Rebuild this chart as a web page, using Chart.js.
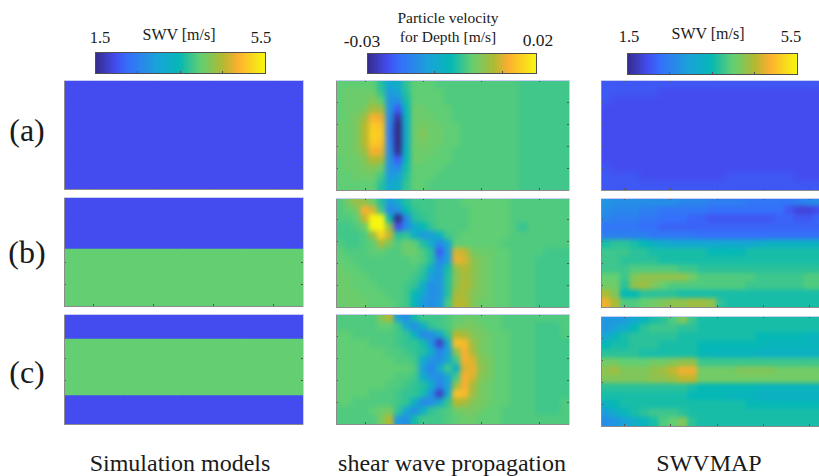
<!DOCTYPE html>
<html>
<head>
<meta charset="utf-8">
<script src="https://cdn.jsdelivr.net/npm/chart.js@4"></script>
<style>
    html, body { margin: 0; padding: 0; background: #fff; overflow: hidden; width: 819px; height: 476px; }
    canvas { position: absolute; }
    .txt { position: absolute; font-family: 'Liberation Serif', serif; color: #1a1a1a; white-space: nowrap; transform: translate(-50%, -50%); line-height: 1; }
</style>
</head>
<body>
<script>
// layered simulation models: depth edges (0 top, 1 bottom) and SWV in m/s per layer
const modelEdgesA = [0, 1];
const modelSwvA = [2];
const modelEdgesB = [0, 0.48, 1];
const modelSwvB = [2, 4];
const modelEdgesC = [0, 0.23, 0.745, 1];
const modelSwvC = [2, 4, 2];

// particle velocity in mm/s, rows top to bottom
const velocityA = [
    [1,1,1,1,1,-3,-10,-8,-2,1,1,1,0,0,0,0,0,0,0,0,0,0,-1,-1,-1,-1,-1,-1],
    [1,2,2,2,2,-2,-13,-11,-3,1,1,1,1,0,0,0,0,0,0,0,0,0,-1,-1,-1,-1,-1,-1],
    [1,2,2,2,4,1,-14,-15,-4,1,1,1,1,0,0,0,0,0,0,0,0,0,-1,-1,-1,-1,-1,-1],
    [1,2,2,3,7,6,-14,-22,-6,2,2,1,1,1,0,0,0,0,0,0,0,0,-1,-1,-1,-1,-1,-1],
    [1,2,3,6,12,11,-15,-28,-7,2,2,2,1,1,0,0,0,0,0,0,0,0,-1,-1,-1,-1,-1,-1],
    [2,2,3,8,15,14,-17,-34,-8,2,3,2,2,1,1,0,0,0,0,0,0,0,-1,-1,-1,-1,-1,-1],
    [2,2,3,8,16,15,-18,-36,-8,2,4,2,2,1,1,0,0,0,0,0,0,0,-1,-1,-1,-1,-1,-1],
    [2,2,3,8,15,14,-17,-34,-8,2,3,2,2,1,1,0,0,0,0,0,0,0,-1,-1,-1,-1,-1,-1],
    [2,2,3,6,12,11,-15,-29,-7,2,2,2,1,1,0,0,0,0,0,0,0,0,-1,-1,-1,-1,-1,-1],
    [1,2,2,4,8,7,-14,-22,-6,2,2,1,1,1,0,0,0,0,0,0,0,0,-1,-1,-1,-1,-1,-1],
    [1,2,2,3,4,2,-14,-16,-4,1,1,1,1,0,0,0,0,0,0,0,0,0,-1,-1,-1,-1,-1,-1],
    [1,1,2,2,2,-1,-13,-11,-3,1,1,1,0,0,0,0,0,0,0,0,0,0,-1,-1,-1,-1,-1,-1],
    [1,1,1,1,1,-3,-10,-8,-2,1,1,0,0,0,0,0,0,0,0,0,0,0,-1,-1,-1,-1,-1,-1]
];
const velocityB = [
    [0,3,6,5,2,-3,-13,-9,-3,-1,-1,-1,0,0,0,1,1,1,1,1,1,0,0,0,0,0,0,0],
    [0,1,3,12,10,-1,-16,-14,-5,-2,-1,-1,0,0,0,0,1,1,1,1,1,0,0,0,0,0,0,0],
    [0,0,1,9,20,20,-6,-34,-16,-3,-2,-1,0,0,0,0,1,1,1,1,1,0,0,0,0,0,0,0],
    [-1,-1,0,2,20,26,5,-24,-16,-9,-5,-2,0,0,0,0,1,1,1,1,1,0,-2,0,0,0,0,0],
    [-1,-1,-1,0,6,16,9,-3,-2,-8,-13,-12,-7,-1,0,1,1,1,1,1,1,0,0,0,0,0,0,0],
    [0,-1,-1,0,1,7,3,0,2,1,-3,-9,-16,-10,1,1,1,1,1,1,0,0,0,0,0,0,0,0],
    [1,0,0,0,1,1,0,0,2,2,0,-3,-22,-12,10,9,3,2,2,1,1,0,0,0,0,-1,-1,-1],
    [1,1,0,0,0,0,0,0,0,1,0,-3,-17,-12,11,10,5,3,2,1,1,0,0,0,-1,-1,-1,-1],
    [2,1,1,0,0,0,0,0,0,0,-2,-9,-14,-4,5,8,5,3,2,1,1,0,0,0,-1,-1,-1,-1],
    [2,2,1,1,0,0,0,0,0,-1,-3,-12,-14,-3,4,7,5,3,2,1,1,0,0,0,-1,-1,-1,-1],
    [2,2,1,1,1,0,0,0,-1,-2,-8,-15,-14,-3,5,8,5,3,2,1,1,0,0,0,-1,-1,-1,-1],
    [2,2,2,1,1,1,0,0,-1,-5,-10,-15,-14,-3,7,7,4,3,2,1,1,0,0,0,-1,-1,-1,-1],
    [2,2,2,2,1,1,1,0,-1,-6,-13,-15,-13,-1,8,8,4,2,2,1,1,0,0,0,-1,-1,-1,-1]
];
const velocityC = [
    [0,0,0,0,0,4,8,-12,-15,-4,-1,-1,-1,0,1,2,2,1,1,1,0,0,0,0,0,0,0,0],
    [0,0,0,0,0,1,1,-1,-10,-15,-8,-2,-1,0,2,3,3,2,1,1,0,0,0,0,-1,-1,-1,0],
    [1,1,0,0,0,0,0,-1,-2,-7,-16,-15,-10,-2,8,7,4,3,2,1,1,0,0,0,-1,-1,-1,0],
    [1,1,1,1,0,0,0,-1,-2,-2,-4,-14,-26,-9,14,13,6,3,2,1,1,0,0,0,-1,-1,-1,-1],
    [1,1,1,1,1,1,0,0,-1,-2,-3,-8,-17,-12,5,12,7,3,2,1,1,0,0,0,-1,-1,-1,-1],
    [1,1,1,1,1,1,1,0,0,-1,-9,-14,-15,-10,-1,12,10,4,3,1,1,0,0,0,-1,-1,-1,-1],
    [1,1,1,1,1,1,1,1,1,0,-12,-17,-10,-1,-8,10,11,5,3,1,1,0,0,0,-1,-1,-1,-1],
    [1,1,1,1,1,1,1,0,0,-1,-9,-14,-15,-10,-1,12,10,4,3,1,1,0,0,0,-1,-1,-1,-1],
    [1,1,1,1,1,1,0,0,-1,-2,-3,-8,-17,-12,5,12,7,3,2,1,1,0,0,0,-1,-1,-1,-1],
    [1,1,1,1,0,0,0,-1,-2,-2,-4,-14,-26,-9,14,13,6,3,2,1,1,0,0,0,-1,-1,-1,-1],
    [1,1,0,0,0,0,0,-1,-2,-7,-16,-15,-10,-2,8,7,4,3,2,1,1,0,0,0,-1,-1,-1,0],
    [0,0,0,0,1,2,3,-2,-10,-15,-8,-2,-1,0,2,3,3,2,1,1,0,0,0,0,-1,-1,-1,0],
    [0,0,0,0,0,3,8,-13,-15,-4,-1,-1,-1,0,1,2,2,1,1,1,0,0,0,0,0,0,0,0]
];

// reconstructed SWV maps in m/s
const swvMapA = [
    [2.1,2.1,2.1,2.1,2.1,2.1,2.1,2.1,2.1,2.1,2.1,2.1,2.1,2.1,2.1,2.1,2.1,2.1,2.1,2.1,2.1,2.1,2.1,2.1],
    [2.1,2.1,2.1,2.1,2.1,2.1,2.0,2.0,2.0,2.0,2.0,2.0,2.0,2.0,2.0,2.0,2.0,2.0,2.0,2.0,2.0,2.0,2.0,2.0],
    [2.1,2.0,2.0,2.0,2.0,2.0,2.0,2.0,2.0,2.0,2.0,2.0,2.0,2.0,2.0,2.0,2.0,2.0,2.0,2.0,2.0,2.0,2.0,2.0],
    [2.0,2.0,2.0,2.0,2.0,2.0,2.0,2.0,2.0,2.0,2.0,2.0,2.0,2.0,2.0,2.0,2.0,2.0,2.0,2.0,2.0,2.0,2.0,2.0],
    [2.0,2.0,2.0,2.0,2.0,2.0,2.0,2.0,2.0,2.0,2.0,2.0,2.0,2.0,2.0,2.0,2.0,2.0,2.0,2.0,2.0,2.0,2.0,2.0],
    [2.0,2.0,2.0,2.0,2.0,2.0,2.0,2.0,2.0,2.0,2.0,2.0,2.0,2.0,2.0,2.0,2.0,2.0,2.0,2.0,2.0,2.0,2.0,2.0],
    [2.0,2.0,2.0,2.0,2.0,2.0,2.0,2.0,2.0,2.0,2.0,2.0,2.0,2.0,2.0,2.0,2.0,2.0,2.0,2.0,2.0,2.0,2.0,2.0],
    [2.0,2.0,2.0,2.0,2.0,2.0,2.0,2.0,2.0,2.0,2.0,2.0,2.0,2.0,2.0,2.0,2.0,2.0,2.0,2.0,2.0,2.0,2.0,2.0],
    [2.0,2.0,2.0,2.0,2.0,2.0,2.0,2.0,2.0,2.0,2.0,2.0,2.0,2.0,2.0,2.0,2.0,2.0,2.0,2.0,2.0,2.0,2.0,2.0],
    [2.0,2.0,2.0,2.0,2.0,2.0,2.0,2.0,2.0,2.0,2.0,2.0,2.0,2.0,2.0,2.0,2.0,2.0,2.0,2.0,2.0,2.0,2.0,2.0],
    [2.1,2.0,2.0,2.0,2.0,2.0,2.0,2.0,2.0,2.0,2.0,2.0,2.0,2.0,2.0,2.0,2.0,2.0,2.0,2.0,2.0,2.0,2.0,2.0],
    [2.1,2.1,2.1,2.1,2.0,2.0,2.0,2.0,2.0,2.0,2.0,2.0,2.0,2.1,2.1,2.1,2.1,2.1,2.1,2.1,2.0,2.0,2.0,2.0],
    [2.1,2.1,2.1,2.1,2.1,2.1,2.1,2.1,2.1,2.1,2.1,2.1,2.1,2.1,2.1,2.1,2.1,2.1,2.1,2.1,2.1,2.1,2.1,2.1]
];
const swvMapB = [
    [2.8,2.7,2.7,2.7,2.7,2.7,2.7,2.7,2.6,2.6,2.6,2.5,2.5,2.5,2.5,2.4,2.4,2.4,2.4,2.4,2.5,2.6,2.7,2.7],
    [2.7,2.6,2.6,2.6,2.5,2.5,2.4,2.4,2.4,2.4,2.4,2.3,2.3,2.3,2.3,2.3,2.3,2.3,2.3,2.1,1.9,1.9,2.0,2.2],
    [2.6,2.5,2.5,2.5,2.4,2.4,2.3,2.3,2.3,2.2,2.2,2.1,2.1,2.1,2.1,2.1,2.1,2.1,2.2,2.2,2.1,2.1,2.2,2.2],
    [2.4,2.4,2.4,2.4,2.3,2.3,2.2,2.2,2.2,2.2,2.2,2.2,2.2,2.2,2.2,2.2,2.2,2.2,2.2,2.2,2.2,2.2,2.2,2.2],
    [2.5,2.5,2.5,2.5,2.5,2.4,2.4,2.4,2.4,2.4,2.3,2.3,2.3,2.3,2.3,2.3,2.3,2.3,2.3,2.3,2.3,2.3,2.3,2.3],
    [3.6,3.7,3.7,3.6,3.5,3.3,3.2,3.1,3.1,3.1,3.1,3.1,3.1,3.1,3.1,3.1,3.2,3.3,3.3,3.3,3.3,3.3,3.3,3.3],
    [3.8,3.8,3.8,3.7,3.7,3.6,3.6,3.6,3.6,3.6,3.6,3.5,3.5,3.5,3.5,3.6,3.6,3.6,3.6,3.6,3.6,3.6,3.6,3.6],
    [3.8,3.8,3.7,3.7,3.7,3.7,3.6,3.6,3.6,3.6,3.6,3.6,3.6,3.6,3.6,3.6,3.6,3.6,3.6,3.6,3.6,3.6,3.6,3.6],
    [3.8,3.8,3.8,3.9,3.9,3.9,3.9,3.9,3.8,3.8,3.7,3.7,3.7,3.7,3.7,3.7,3.7,3.7,3.7,3.7,3.7,3.7,3.7,3.7],
    [4.0,4.0,3.8,4.2,4.3,4.3,4.3,4.3,4.3,4.1,3.9,3.9,3.9,3.9,3.9,3.9,3.8,3.8,3.8,3.8,3.8,3.9,3.9,3.9],
    [4.1,4.1,3.7,4.3,4.4,4.2,4.0,3.9,3.9,3.9,3.9,3.9,3.9,3.9,3.9,3.8,3.8,3.8,3.8,3.8,3.8,3.9,3.9,3.9],
    [4.5,4.2,3.5,3.5,3.7,3.7,3.7,3.7,3.6,3.6,3.6,3.6,3.6,3.6,3.6,3.6,3.6,3.6,3.6,3.6,3.6,3.6,3.6,3.6],
    [4.8,4.5,3.9,3.9,4.0,4.1,4.2,4.3,4.3,4.4,4.4,4.3,3.7,3.6,3.6,3.6,3.6,3.6,3.6,3.6,3.6,3.6,3.6,3.6]
];
const swvMapC = [
    [2.8,2.8,2.9,3.1,3.4,3.6,3.7,3.9,4.2,3.8,3.6,3.6,3.6,3.6,3.6,3.6,3.6,3.6,3.6,3.6,3.6,3.6,3.6,3.6],
    [2.8,3.0,3.2,3.5,3.7,3.8,3.8,3.8,3.7,3.7,3.6,3.6,3.6,3.6,3.6,3.6,3.6,3.6,3.6,3.6,3.6,3.6,3.6,3.6],
    [3.1,3.4,3.6,3.7,3.7,3.7,3.7,3.7,3.6,3.6,3.6,3.6,3.6,3.6,3.6,3.6,3.5,3.5,3.5,3.5,3.5,3.4,3.4,3.4],
    [3.5,3.6,3.6,3.7,3.7,3.7,3.6,3.6,3.6,3.6,3.5,3.5,3.5,3.5,3.5,3.5,3.5,3.4,3.4,3.4,3.4,3.4,3.4,3.4],
    [3.7,3.7,3.7,3.7,3.6,3.6,3.6,3.6,3.6,3.6,3.5,3.4,3.4,3.4,3.4,3.4,3.3,3.3,3.3,3.3,3.3,3.3,3.3,3.3],
    [4.1,4.1,4.0,4.0,4.0,4.1,4.1,4.2,4.3,4.3,3.8,3.8,3.8,3.8,3.8,3.8,3.8,3.8,3.8,3.8,3.8,3.8,3.8,3.8],
    [4.3,4.4,4.2,4.2,4.2,4.3,4.4,4.6,4.8,4.8,4.1,4.1,4.1,4.1,4.2,4.2,4.2,4.2,4.1,4.1,4.1,4.1,4.1,4.1],
    [4.2,4.2,4.2,4.2,4.2,4.3,4.3,4.4,4.6,4.6,4.1,4.1,4.1,4.1,4.1,4.1,4.1,4.1,4.1,4.1,4.1,4.1,4.1,4.1],
    [3.7,3.7,3.7,3.7,3.7,3.7,3.7,3.7,3.7,3.6,3.5,3.5,3.5,3.5,3.5,3.5,3.4,3.4,3.4,3.4,3.4,3.4,3.4,3.4],
    [3.6,3.6,3.6,3.6,3.6,3.6,3.6,3.6,3.6,3.5,3.5,3.5,3.5,3.4,3.4,3.4,3.3,3.3,3.3,3.3,3.3,3.3,3.3,3.3],
    [3.3,3.5,3.6,3.6,3.6,3.6,3.6,3.6,3.6,3.6,3.6,3.6,3.6,3.6,3.6,3.5,3.5,3.5,3.5,3.5,3.5,3.5,3.5,3.5],
    [2.9,3.2,3.4,3.6,3.7,3.8,3.8,3.8,3.7,3.6,3.6,3.6,3.6,3.6,3.6,3.6,3.6,3.6,3.6,3.6,3.6,3.6,3.6,3.6],
    [2.7,2.8,3.0,3.2,3.4,3.6,3.9,4.0,4.2,3.7,3.6,3.6,3.6,3.6,3.6,3.6,3.6,3.6,3.6,3.6,3.6,3.6,3.6,3.6]
];

// colour bar ranges and their tick marks
const swvRange = [1.5, 5.5];
const swvBarTicks = [2, 3, 4, 5];
const velocityRange = [-30, 20];
const velocityBarTicks = [-20, 0];

const colorStops = [
    [0, '#352a87'], [0.125, '#444cf0'], [0.2, '#3570fa'], [0.37, '#1aa3d8'], [0.5, '#05b8b5'],
    [0.625, '#63cf72'], [0.76, '#b4b830'], [0.84, '#fbaf30'], [1, '#f8f510']
];

function hexToRgb(hex) {
    return [1, 3, 5].map(i => parseInt(hex.slice(i, i + 2), 16));
}

function colorAt(t) {
    t = Math.min(1, Math.max(0, t));
    for (let i = 1; i < colorStops.length; i++) {
        if (t <= colorStops[i][0]) {
            const f = (t - colorStops[i - 1][0]) / (colorStops[i][0] - colorStops[i - 1][0]);
            const a = hexToRgb(colorStops[i - 1][1]);
            const b = hexToRgb(colorStops[i][1]);
            return `rgb(${a.map((v, k) => Math.round(v + (b[k] - v) * f)).join(',')})`;
        }
    }
    return colorStops[colorStops.length - 1][1];
}

function gridCells(rows) {
    const cells = [];
    rows.forEach((row, r) => row.forEach((v, c) => cells.push({ x: c + 0.5, y: [r, r + 1], v })));
    return cells;
}

function layerCells(edges, values) {
    const cells = [];
    values.forEach((v, i) => {
        for (let c = 0; c < 4; c++) cells.push({ x: c + 0.5, y: [edges[i], edges[i + 1]], v });
    });
    return cells;
}

// soften the blocks, the source picture is a smooth and slightly blurry image
const softenPlugin = {
    id: 'soften',
    afterDatasetsDraw(chart, args, opts) {
        if (!opts.radius) return;
        const { ctx, chartArea: a } = chart;
        ctx.save();
        ctx.beginPath();
        ctx.rect(a.left, a.top, a.right - a.left, a.bottom - a.top);
        ctx.clip();
        ctx.filter = `blur(${opts.radius}px)`;
        ctx.drawImage(chart.canvas, 0, 0);
        ctx.restore();
    }
};

function tickAxis(position, min, max, ticks, reverse, borderColor) {
    const horizontal = position === 'bottom' || position === 'top';
    return {
        type: 'linear', position, min, max, reverse, offset: false,
        afterBuildTicks: s => { s.ticks = ticks.map(value => ({ value })); },
        afterFit: s => { if (horizontal) s.height = 0; else s.width = 0; },
        ticks: { display: false },
        grid: { drawOnChartArea: false, tickLength: -2, color: '#555', lineWidth: 1, z: 1 },
        border: { display: true, color: borderColor, width: 1, z: 1 }
    };
}

function addPanel(left, top, width, height, p) {
    const canvas = document.createElement('canvas');
    canvas.width = width;
    canvas.height = height;
    canvas.style.left = left + 'px';
    canvas.style.top = top + 'px';
    document.body.appendChild(canvas);
    new Chart(canvas, {
        type: 'bar',
        data: {
            datasets: [{
                data: p.cells,
                xAxisID: 'x',
                yAxisID: 'y',
                barPercentage: 1,
                categoryPercentage: 1,
                grouped: false,
                inflateAmount: 0.6,
                borderWidth: 0,
                backgroundColor: c => colorAt((c.raw.v - p.vMin) / (p.vMax - p.vMin))
            }]
        },
        plugins: [softenPlugin],
        options: {
            responsive: false,
            animation: false,
            devicePixelRatio: 1,
            layout: { padding: 1 },
            plugins: { legend: { display: false }, tooltip: { enabled: false }, soften: { radius: p.blur || 0 } },
            scales: {
                x: tickAxis('bottom', p.xMin, p.xMax, p.xTicks, false, p.edge || '#8c8c8c'),
                y: tickAxis('left', p.yMin, p.yMax, p.yTicks, true, p.edge || '#8c8c8c'),
                xTop: tickAxis('top', p.xMin, p.xMax, p.topTicks || p.xTicks, false, p.edge || '#c9cdf2'),
                yRight: tickAxis('right', p.yMin, p.yMax, p.yTicks, true, p.edge || '#c9cdf2')
            }
        }
    });
}

function addField(left, top, width, height, cells, cols, rows, vMin, vMax, blur, xIntervals) {
    const xTicks = [];
    for (let i = 1; i < xIntervals; i++) xTicks.push(cols * i / xIntervals);
    const yTicks = [];
    for (let i = 1; i < 5; i++) yTicks.push(rows * i / 5);
    addPanel(left, top, width, height, { cells, xMin: 0, xMax: cols, yMin: 0, yMax: rows, xTicks, yTicks, vMin, vMax, blur });
}

function addColorBar(left, top, width, height, range, ticks, steps) {
    const cells = [];
    const step = (range[1] - range[0]) / steps;
    for (let i = 0; i < steps; i++) cells.push({ x: range[0] + step * (i + 0.5), y: [0, 1], v: range[0] + step * (i + 0.5) });
    addPanel(left, top, width, height, {
        cells, xMin: range[0], xMax: range[1], yMin: 0, yMax: 1, xTicks: ticks, topTicks: [], yTicks: [],
        vMin: range[0], vMax: range[1], edge: '#4f4f4f'
    });
}

function addText(text, x, y, size) {
    const el = document.createElement('div');
    el.className = 'txt';
    el.textContent = text;
    el.style.left = x + 'px';
    el.style.top = y + 'px';
    el.style.fontSize = size + 'px';
    document.body.appendChild(el);
}

// simulation models
addField(63, 79, 241, 111, layerCells(modelEdgesA, modelSwvA), 4, 1, 1.5, 5.5, 0, 4);
addField(63, 196, 241, 111, layerCells(modelEdgesB, modelSwvB), 4, 1, 1.5, 5.5, 0, 4);
addField(63, 313, 241, 112, layerCells(modelEdgesC, modelSwvC), 4, 1, 1.5, 5.5, 0, 4);

// wave propagation snapshots
addField(335, 79, 235, 112, gridCells(velocityA), 28, 13, -30, 20, 2.5, 4);
addField(335, 197, 235, 111, gridCells(velocityB), 28, 13, -30, 20, 2.5, 4);
addField(335, 313, 235, 112, gridCells(velocityC), 28, 13, -30, 20, 2.5, 4);

// reconstructed maps, they run past the right edge of the window
addField(600, 79, 234, 112, gridCells(swvMapA), 24, 13, 1.5, 5.5, 3, 5);
addField(600, 197, 234, 111, gridCells(swvMapB), 24, 13, 1.5, 5.5, 2, 5);
addField(600, 315, 234, 112, gridCells(swvMapC), 24, 13, 1.5, 5.5, 2, 5);

// colour bars
addColorBar(94, 51, 172, 23, swvRange, swvBarTicks, 80);
addColorBar(366, 52, 171, 22, velocityRange, velocityBarTicks, 80);
addColorBar(626, 52, 172, 23, swvRange, swvBarTicks, 80);

addText('1.5', 100, 38, 16.5);
addText('SWV [m/s]', 179, 35, 16);
addText('5.5', 261, 38, 16.5);
addText('Particle velocity', 448, 18, 15.5);
addText('for Depth [m/s]', 448, 37, 15.5);
addText('-0.03', 362, 42, 17.5);
addText('0.02', 538, 41, 17.5);
addText('1.5', 629, 37, 16.5);
addText('SWV [m/s]', 708, 34, 16);
addText('5.5', 791, 37, 16.5);
addText('(a)', 27, 130, 32);
addText('(b)', 27, 252, 32);
addText('(c)', 27, 372, 32);
addText('Simulation models', 180, 463, 24);
addText('shear wave propagation', 452, 463, 24);
addText('SWVMAP', 709, 463, 24);
</script>
</body>
</html>
